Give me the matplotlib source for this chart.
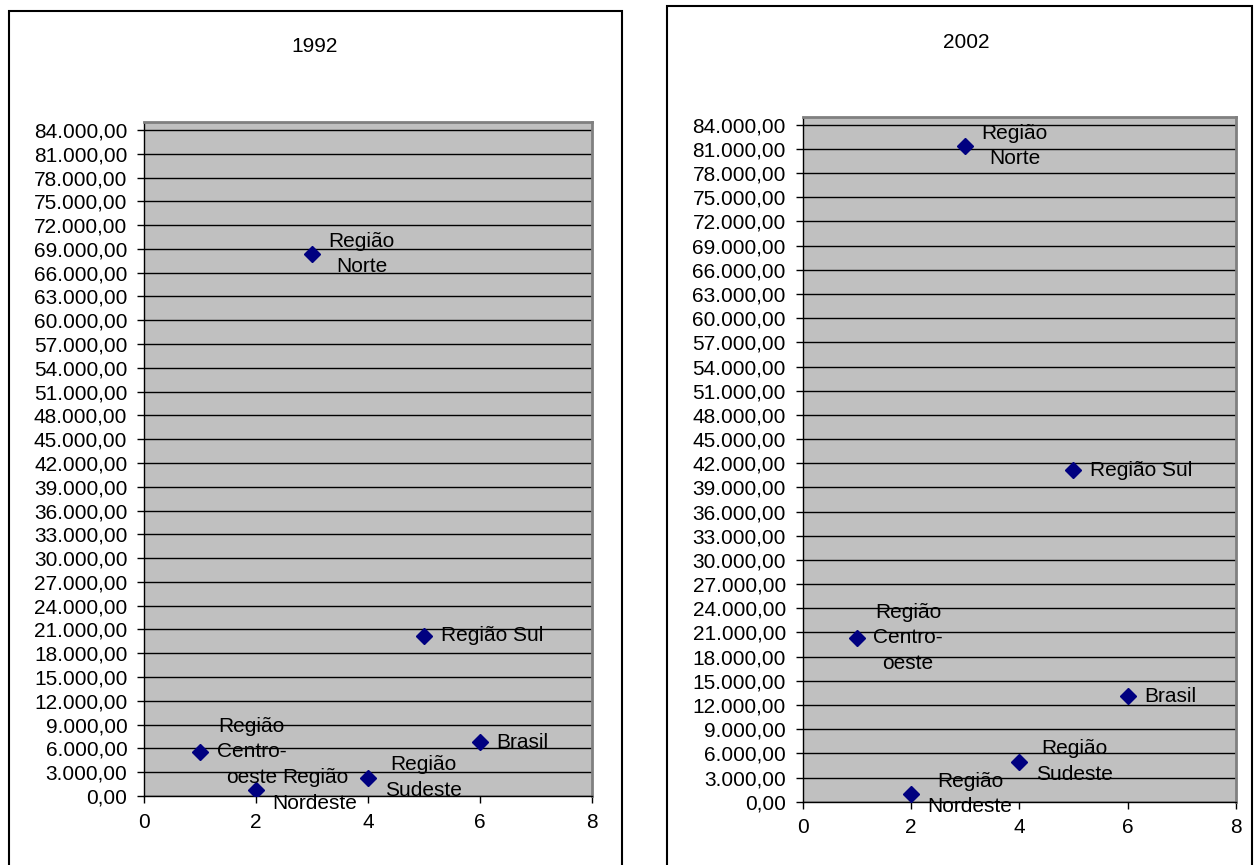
import numpy as np
import matplotlib.pyplot as plt
from matplotlib.patches import Rectangle
from matplotlib.ticker import FuncFormatter, MultipleLocator

plt.rcParams['font.family'] = ['Liberation Sans', 'DejaVu Sans']
plt.rcParams['font.size'] = 15

# data
labels = ['Região\nCentro-\noeste', 'Região\nNordeste', 'Região\nNorte',
          'Região\nSudeste', 'Região Sul', 'Brasil']
x_pos = [1, 2, 3, 4, 5, 6]
vals_1992 = [5550, 720, 68350, 2320, 20190, 6810]
vals_2002 = [20330, 960, 81350, 4970, 41110, 13090]

W, H = 1255, 865


def br_fmt(v, pos):
    s = f"{v:,.2f}"
    return s.replace(',', 'X').replace('.', ',').replace('X', '.')


def px_axes(fig, left, right, top, bottom):
    return fig.add_axes([left / W, 1 - bottom / H, (right - left) / W, (bottom - top) / H])


def draw_panel(ax, vals):
    ax.set_facecolor('#c0c0c0')
    ax.set_xlim(0, 8)
    ax.set_ylim(0, 85000)
    ax.xaxis.set_major_locator(MultipleLocator(2))
    ax.set_yticks(np.arange(0, 84001, 3000))
    ax.yaxis.set_major_formatter(FuncFormatter(br_fmt))
    ax.grid(axis='y', color='black', linewidth=1)
    ax.set_axisbelow(True)
    ax.tick_params(direction='out', length=5, width=1, pad=7, labelsize=15)
    for s in ['top', 'right']:
        ax.spines[s].set_color('#808080')
        ax.spines[s].set_linewidth(2)
    for s in ['left', 'bottom']:
        ax.spines[s].set_color('black')
        ax.spines[s].set_linewidth(1)
    ax.plot(x_pos, vals, linestyle='none', marker='D', markersize=8,
            color='#000080', zorder=3)
    for xi, yi, lab in zip(x_pos, vals, labels):
        ax.annotate(lab, (xi, yi), xytext=(12, 0), textcoords='offset points',
                    ha='left', va='center', multialignment='center',
                    linespacing=1.45, zorder=4)


fig = plt.figure(figsize=(W / 100, H / 100), dpi=100)

# outer chart frames
fig.add_artist(Rectangle((9 / W, -0.05), 613 / W, 1.05 - 11 / H, transform=fig.transFigure,
                         fill=False, edgecolor='black', linewidth=1.5))
fig.add_artist(Rectangle((667 / W, -0.05), 585 / W, 1.05 - 6 / H, transform=fig.transFigure,
                         fill=False, edgecolor='black', linewidth=1.5))

ax1 = px_axes(fig, 144, 592, 122, 796)
draw_panel(ax1, vals_1992)
fig.text(315 / W, 1 - 46 / H, '1992', ha='center', va='center')

ax2 = px_axes(fig, 802.5, 1236, 116.7, 801.7)
draw_panel(ax2, vals_2002)
fig.text(966 / W, 1 - 42 / H, '2002', ha='center', va='center')

plt.savefig('out.png', dpi=100)
